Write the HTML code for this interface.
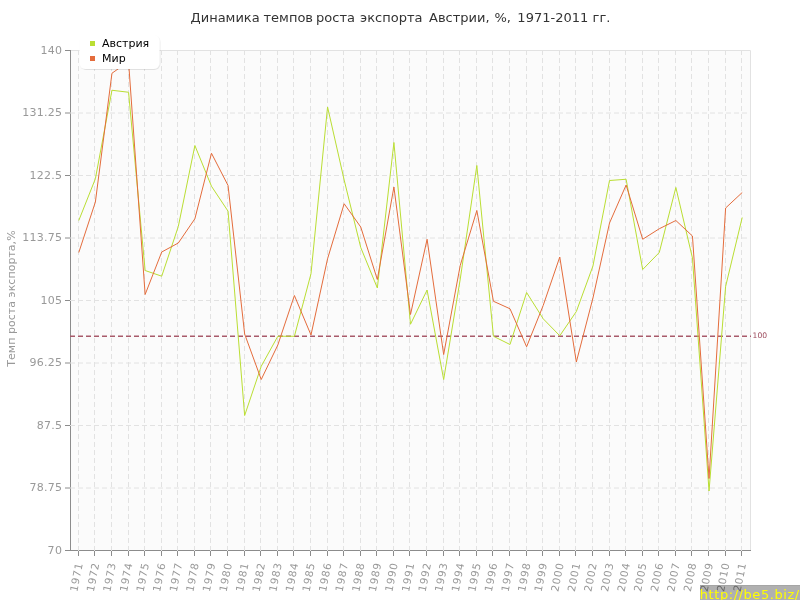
<!DOCTYPE html><html><head><meta charset="utf-8"><style>html,body{margin:0;padding:0;background:#fff;width:800px;height:600px;overflow:hidden}svg{display:block;will-change:transform}</style></head><body>
<svg width="800" height="600" viewBox="0 0 800 600" font-family="'DejaVu Sans', 'Liberation Sans', sans-serif">
<defs><filter id="sh" x="-20%" y="-20%" width="140%" height="150%"><feDropShadow dx="0.6" dy="0.8" stdDeviation="0.6" flood-color="#000" flood-opacity="0.13"/></filter></defs>
<rect x="0" y="0" width="800" height="600" fill="#fff"/>
<rect x="70" y="50" width="680" height="500" fill="#fbfbfb"/>
<path d="M70 50.5H750.5V550" fill="none" stroke="#e2e2e2" stroke-width="1"/>
<path d="M70.5 50V551M65 550.5H751M65 50.5H70M65 113.0H70M65 175.5H70M65 238.0H70M65 300.5H70M65 363.0H70M65 425.5H70M65 488.0H70M78.5 551V556M94.5 551V556M111.5 551V556M128.5 551V556M144.5 551V556M161.5 551V556M177.5 551V556M194.5 551V556M210.5 551V556M227.5 551V556M244.5 551V556M260.5 551V556M277.5 551V556M293.5 551V556M310.5 551V556M327.5 551V556M343.5 551V556M360.5 551V556M376.5 551V556M393.5 551V556M409.5 551V556M426.5 551V556M443.5 551V556M459.5 551V556M476.5 551V556M492.5 551V556M509.5 551V556M526.5 551V556M542.5 551V556M559.5 551V556M575.5 551V556M592.5 551V556M609.5 551V556M625.5 551V556M642.5 551V556M658.5 551V556M675.5 551V556M691.5 551V556M708.5 551V556M725.5 551V556M741.5 551V556" fill="none" stroke="#8c8c8c" stroke-width="1"/>
<path d="M78.5 50V551M94.5 50V551M111.5 50V551M128.5 50V551M144.5 50V551M161.5 50V551M177.5 50V551M194.5 50V551M210.5 50V551M227.5 50V551M244.5 50V551M260.5 50V551M277.5 50V551M293.5 50V551M310.5 50V551M327.5 50V551M343.5 50V551M360.5 50V551M376.5 50V551M393.5 50V551M409.5 50V551M426.5 50V551M443.5 50V551M459.5 50V551M476.5 50V551M492.5 50V551M509.5 50V551M526.5 50V551M542.5 50V551M559.5 50V551M575.5 50V551M592.5 50V551M609.5 50V551M625.5 50V551M642.5 50V551M658.5 50V551M675.5 50V551M691.5 50V551M708.5 50V551M725.5 50V551M741.5 50V551M70 113.0H750M70 175.5H750M70 238.0H750M70 300.5H750M70 363.0H750M70 425.5H750M70 488.0H750" fill="none" stroke="#e2e2e2" stroke-width="1" stroke-dasharray="5,3"/>
<path d="M70 336.21H751" fill="none" stroke="#a85a6a" stroke-width="1.5" stroke-dasharray="5,3"/>
<text x="752.6" y="338.2" font-size="7.6" fill="#9c4a5c">100</text>
<polyline points="78.79,220.50 95.38,178.75 111.96,90.25 128.55,92.25 145.13,270.50 161.72,276.20 178.30,226.50 194.89,145.50 211.48,186.25 228.06,211.20 244.65,415.50 261.23,366.25 277.82,336.25 294.40,336.25 310.99,273.75 327.57,107.00 344.16,180.00 360.74,247.50 377.33,288.00 393.91,142.50 410.50,324.25 427.09,290.00 443.67,379.50 460.26,279.00 476.84,165.50 493.43,336.25 510.01,344.50 526.60,292.50 543.18,318.75 559.77,335.75 576.35,311.50 592.94,266.00 609.52,180.50 626.11,179.25 642.70,269.50 659.28,252.50 675.87,187.50 692.45,258.00 709.04,491.00 725.62,286.50 742.21,217.50" fill="none" stroke="#bade33" stroke-width="1"/>
<polyline points="78.79,252.50 95.38,202.00 111.96,73.25 128.55,61.50 145.13,294.50 161.72,252.00 178.30,243.00 194.89,218.75 211.48,153.25 228.06,185.50 244.65,334.00 261.23,379.50 277.82,345.00 294.40,295.50 310.99,335.00 327.57,258.75 344.16,203.75 360.74,227.00 377.33,279.50 393.91,187.00 410.50,314.50 427.09,239.25 443.67,354.50 460.26,265.30 476.84,210.50 493.43,301.25 510.01,308.75 526.60,346.75 543.18,305.50 559.77,257.00 576.35,362.00 592.94,298.00 609.52,223.00 626.11,185.00 642.70,239.25 659.28,228.75 675.87,220.50 692.45,236.00 709.04,478.50 725.62,208.00 742.21,192.50" fill="none" stroke="#e46c3c" stroke-width="1"/>
<text x="62" y="53.8" font-size="11" fill="#999" text-anchor="end" textLength="21.62" lengthAdjust="spacing">140</text>
<text x="62" y="116.3" font-size="11" fill="#999" text-anchor="end" textLength="39.64" lengthAdjust="spacing">131.25</text>
<text x="62" y="178.8" font-size="11" fill="#999" text-anchor="end" textLength="32.43" lengthAdjust="spacing">122.5</text>
<text x="62" y="241.3" font-size="11" fill="#999" text-anchor="end" textLength="39.64" lengthAdjust="spacing">113.75</text>
<text x="62" y="303.8" font-size="11" fill="#999" text-anchor="end" textLength="21.62" lengthAdjust="spacing">105</text>
<text x="62" y="366.3" font-size="11" fill="#999" text-anchor="end" textLength="32.43" lengthAdjust="spacing">96.25</text>
<text x="62" y="428.8" font-size="11" fill="#999" text-anchor="end" textLength="25.23" lengthAdjust="spacing">87.5</text>
<text x="62" y="491.3" font-size="11" fill="#999" text-anchor="end" textLength="32.43" lengthAdjust="spacing">78.75</text>
<text x="62" y="553.8" font-size="11" fill="#999" text-anchor="end" textLength="14.42" lengthAdjust="spacing">70</text>
<text transform="translate(15,366.7) rotate(-90)" font-size="11" fill="#999" textLength="136.3" lengthAdjust="spacing">Темп роста экспорта,%</text>
<text transform="translate(82.69,564) rotate(-79)" font-size="10.5" fill="#999" text-anchor="end" textLength="28.9" lengthAdjust="spacing">1971</text>
<text transform="translate(99.28,564) rotate(-79)" font-size="10.5" fill="#999" text-anchor="end" textLength="28.9" lengthAdjust="spacing">1972</text>
<text transform="translate(115.86,564) rotate(-79)" font-size="10.5" fill="#999" text-anchor="end" textLength="28.9" lengthAdjust="spacing">1973</text>
<text transform="translate(132.45,564) rotate(-79)" font-size="10.5" fill="#999" text-anchor="end" textLength="28.9" lengthAdjust="spacing">1974</text>
<text transform="translate(149.03,564) rotate(-79)" font-size="10.5" fill="#999" text-anchor="end" textLength="28.9" lengthAdjust="spacing">1975</text>
<text transform="translate(165.62,564) rotate(-79)" font-size="10.5" fill="#999" text-anchor="end" textLength="28.9" lengthAdjust="spacing">1976</text>
<text transform="translate(182.20,564) rotate(-79)" font-size="10.5" fill="#999" text-anchor="end" textLength="28.9" lengthAdjust="spacing">1977</text>
<text transform="translate(198.79,564) rotate(-79)" font-size="10.5" fill="#999" text-anchor="end" textLength="28.9" lengthAdjust="spacing">1978</text>
<text transform="translate(215.38,564) rotate(-79)" font-size="10.5" fill="#999" text-anchor="end" textLength="28.9" lengthAdjust="spacing">1979</text>
<text transform="translate(231.96,564) rotate(-79)" font-size="10.5" fill="#999" text-anchor="end" textLength="28.9" lengthAdjust="spacing">1980</text>
<text transform="translate(248.55,564) rotate(-79)" font-size="10.5" fill="#999" text-anchor="end" textLength="28.9" lengthAdjust="spacing">1981</text>
<text transform="translate(265.13,564) rotate(-79)" font-size="10.5" fill="#999" text-anchor="end" textLength="28.9" lengthAdjust="spacing">1982</text>
<text transform="translate(281.72,564) rotate(-79)" font-size="10.5" fill="#999" text-anchor="end" textLength="28.9" lengthAdjust="spacing">1983</text>
<text transform="translate(298.30,564) rotate(-79)" font-size="10.5" fill="#999" text-anchor="end" textLength="28.9" lengthAdjust="spacing">1984</text>
<text transform="translate(314.89,564) rotate(-79)" font-size="10.5" fill="#999" text-anchor="end" textLength="28.9" lengthAdjust="spacing">1985</text>
<text transform="translate(331.47,564) rotate(-79)" font-size="10.5" fill="#999" text-anchor="end" textLength="28.9" lengthAdjust="spacing">1986</text>
<text transform="translate(348.06,564) rotate(-79)" font-size="10.5" fill="#999" text-anchor="end" textLength="28.9" lengthAdjust="spacing">1987</text>
<text transform="translate(364.64,564) rotate(-79)" font-size="10.5" fill="#999" text-anchor="end" textLength="28.9" lengthAdjust="spacing">1988</text>
<text transform="translate(381.23,564) rotate(-79)" font-size="10.5" fill="#999" text-anchor="end" textLength="28.9" lengthAdjust="spacing">1989</text>
<text transform="translate(397.81,564) rotate(-79)" font-size="10.5" fill="#999" text-anchor="end" textLength="28.9" lengthAdjust="spacing">1990</text>
<text transform="translate(414.40,564) rotate(-79)" font-size="10.5" fill="#999" text-anchor="end" textLength="28.9" lengthAdjust="spacing">1991</text>
<text transform="translate(430.99,564) rotate(-79)" font-size="10.5" fill="#999" text-anchor="end" textLength="28.9" lengthAdjust="spacing">1992</text>
<text transform="translate(447.57,564) rotate(-79)" font-size="10.5" fill="#999" text-anchor="end" textLength="28.9" lengthAdjust="spacing">1993</text>
<text transform="translate(464.16,564) rotate(-79)" font-size="10.5" fill="#999" text-anchor="end" textLength="28.9" lengthAdjust="spacing">1994</text>
<text transform="translate(480.74,564) rotate(-79)" font-size="10.5" fill="#999" text-anchor="end" textLength="28.9" lengthAdjust="spacing">1995</text>
<text transform="translate(497.33,564) rotate(-79)" font-size="10.5" fill="#999" text-anchor="end" textLength="28.9" lengthAdjust="spacing">1996</text>
<text transform="translate(513.91,564) rotate(-79)" font-size="10.5" fill="#999" text-anchor="end" textLength="28.9" lengthAdjust="spacing">1997</text>
<text transform="translate(530.50,564) rotate(-79)" font-size="10.5" fill="#999" text-anchor="end" textLength="28.9" lengthAdjust="spacing">1998</text>
<text transform="translate(547.08,564) rotate(-79)" font-size="10.5" fill="#999" text-anchor="end" textLength="28.9" lengthAdjust="spacing">1999</text>
<text transform="translate(563.67,564) rotate(-79)" font-size="10.5" fill="#999" text-anchor="end" textLength="28.9" lengthAdjust="spacing">2000</text>
<text transform="translate(580.25,564) rotate(-79)" font-size="10.5" fill="#999" text-anchor="end" textLength="28.9" lengthAdjust="spacing">2001</text>
<text transform="translate(596.84,564) rotate(-79)" font-size="10.5" fill="#999" text-anchor="end" textLength="28.9" lengthAdjust="spacing">2002</text>
<text transform="translate(613.42,564) rotate(-79)" font-size="10.5" fill="#999" text-anchor="end" textLength="28.9" lengthAdjust="spacing">2003</text>
<text transform="translate(630.01,564) rotate(-79)" font-size="10.5" fill="#999" text-anchor="end" textLength="28.9" lengthAdjust="spacing">2004</text>
<text transform="translate(646.60,564) rotate(-79)" font-size="10.5" fill="#999" text-anchor="end" textLength="28.9" lengthAdjust="spacing">2005</text>
<text transform="translate(663.18,564) rotate(-79)" font-size="10.5" fill="#999" text-anchor="end" textLength="28.9" lengthAdjust="spacing">2006</text>
<text transform="translate(679.77,564) rotate(-79)" font-size="10.5" fill="#999" text-anchor="end" textLength="28.9" lengthAdjust="spacing">2007</text>
<text transform="translate(696.35,564) rotate(-79)" font-size="10.5" fill="#999" text-anchor="end" textLength="28.9" lengthAdjust="spacing">2008</text>
<text transform="translate(712.94,564) rotate(-79)" font-size="10.5" fill="#999" text-anchor="end" textLength="28.9" lengthAdjust="spacing">2009</text>
<text transform="translate(729.52,564) rotate(-79)" font-size="10.5" fill="#999" text-anchor="end" textLength="28.9" lengthAdjust="spacing">2010</text>
<text transform="translate(746.11,564) rotate(-79)" font-size="10.5" fill="#999" text-anchor="end" textLength="28.9" lengthAdjust="spacing">2011</text>
<text y="22" font-size="13" fill="#333"><tspan x="190.56">Динамика</tspan> <tspan x="263.50">темпов</tspan> <tspan x="316.12">роста</tspan> <tspan x="360.08">экспорта</tspan> <tspan x="429.00">Австрии,</tspan> <tspan x="494.48">%,</tspan> <tspan x="517.37">1971-2011</tspan> <tspan x="592.60">гг.</tspan></text>
<rect x="79.5" y="35" width="80" height="34" rx="6" ry="6" fill="#fff" filter="url(#sh)"/>
<rect x="90" y="41" width="5" height="5" fill="#bade33"/>
<rect x="90" y="56" width="5" height="5" fill="#e46c3c"/>
<text x="102" y="47" font-size="11" fill="#000">Австрия</text>
<text x="102" y="62" font-size="11" fill="#000">Мир</text>
<rect x="700" y="585" width="100" height="15" fill="rgba(0,0,0,0.31)"/>
<rect x="700" y="585" width="100" height="1" fill="rgba(0,0,0,0.06)"/>
<text x="699.8" y="599" font-size="13" letter-spacing="0.56" fill="#ffff00">http://be5.biz/</text>
</svg></body></html>
